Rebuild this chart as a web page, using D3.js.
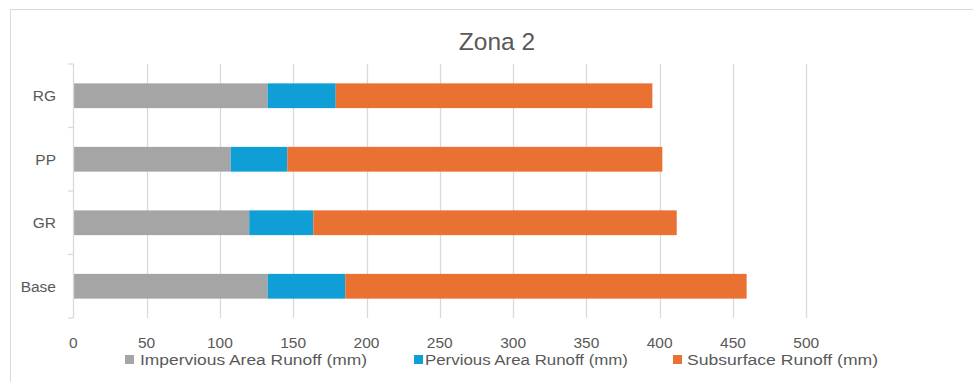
<!DOCTYPE html>
<html>
<head>
<meta charset="utf-8">
<script src="https://cdn.jsdelivr.net/npm/d3@7"></script>
<style>
  html, body { margin: 0; padding: 0; background: #fff; }
  svg { display: block; font-family: "Liberation Sans", Arial, sans-serif; }
</style>
</head>
<body>
<svg id="chart" width="973" height="382"></svg>
<script>
const title = "Zona 2";
const categories = ["RG", "PP", "GR", "Base"];
const seriesNames = ["Impervious Area Runoff (mm)", "Pervious Area Runoff (mm)", "Subsurface Runoff (mm)"];
const impervious = [132.6, 107.4, 120.0, 132.6];
const pervious = [46.4, 38.6, 43.7, 52.9];
const subsurface = [216.0, 255.8, 247.9, 273.8];
const xTicks = [0, 50, 100, 150, 200, 250, 300, 350, 400, 450, 500];
const colors = ["#A5A5A5", "#0F9ED5", "#E97132"];

(function () {
const svg = d3.select("#chart");
const textColor = "#595959";
const gridColor = "#D9D9D9";

// frame
svg.append("rect").attr("x", 10.5).attr("y", 9.5).attr("width", 1000).attr("height", 400)
  .attr("fill", "none").attr("stroke", gridColor).attr("stroke-width", 1);

const pLeft = 73.3, pRight = 806.3, pTop = 64, pBottom = 318;
const x = d3.scaleLinear().domain([0, 500]).range([pLeft, pRight]);
const y = d3.scaleBand().domain(categories).range([pTop, pBottom]).paddingInner(0.61).paddingOuter(0.305);

// title
svg.append("text").attr("x", 497).attr("y", 50).attr("text-anchor", "middle")
  .attr("font-size", 24.5).attr("fill", textColor).text(title);

// gridlines
svg.append("g").selectAll("line").data(xTicks.filter(d => d > 0)).join("line")
  .attr("x1", d => Math.round(x(d)) + 0.5).attr("x2", d => Math.round(x(d)) + 0.5)
  .attr("y1", pTop).attr("y2", pBottom)
  .attr("stroke", gridColor).attr("stroke-width", 1.3);

// stacked data
const rows = categories.map((c, i) => ({ cat: c, s0: impervious[i], s1: pervious[i], s2: subsurface[i] }));
const stack = d3.stack().keys(["s0", "s1", "s2"])(rows);

svg.append("g").selectAll("g").data(stack).join("g")
  .attr("fill", (d, i) => colors[i])
  .selectAll("rect").data(d => d).join("rect")
  .attr("x", d => x(d[0])).attr("width", d => x(d[1]) - x(d[0]))
  .attr("y", d => y(d.data.cat)).attr("height", y.bandwidth());

// y axis line + ticks at band boundaries
const step = y.step();
const bounds = d3.range(categories.length + 1).map(i => pTop + i * step);
svg.append("line").attr("x1", Math.round(pLeft) + 0.5).attr("x2", Math.round(pLeft) + 0.5)
  .attr("y1", pTop).attr("y2", pBottom).attr("stroke", gridColor).attr("stroke-width", 1.3);
svg.append("g").selectAll("line").data(bounds).join("line")
  .attr("x1", pLeft - 5).attr("x2", pLeft).attr("y1", d => d).attr("y2", d => d)
  .attr("stroke", gridColor).attr("stroke-width", 1.3);

// y labels
svg.append("g").selectAll("text").data(categories).join("text")
  .attr("x", 56).attr("y", d => y(d) + y.bandwidth() / 2).attr("dy", "0.35em")
  .attr("text-anchor", "end").attr("font-size", 15.5).attr("fill", textColor).text(d => d);

// x labels
svg.append("g").selectAll("text").data(xTicks).join("text")
  .attr("x", d => x(d)).attr("y", 343).attr("dy", "0.35em")
  .attr("text-anchor", "middle").attr("font-size", 15.5).attr("fill", textColor).text(d => d);

// legend
const legendItems = [
  { sq: 125, tx: 140, w: 227 },
  { sq: 414, tx: 425, w: 203 },
  { sq: 673, tx: 687, w: 191 }
];
const lg = svg.append("g");
legendItems.forEach((it, i) => {
  lg.append("rect").attr("x", it.sq).attr("y", 355).attr("width", 9).attr("height", 9).attr("fill", colors[i]);
  lg.append("text").attr("x", it.tx).attr("y", 359.5).attr("dy", "0.35em")
    .attr("font-size", 15.5).attr("fill", textColor)
    .attr("textLength", it.w).attr("lengthAdjust", "spacingAndGlyphs")
    .text(seriesNames[i]);
});
})();
</script>
</body>
</html>
